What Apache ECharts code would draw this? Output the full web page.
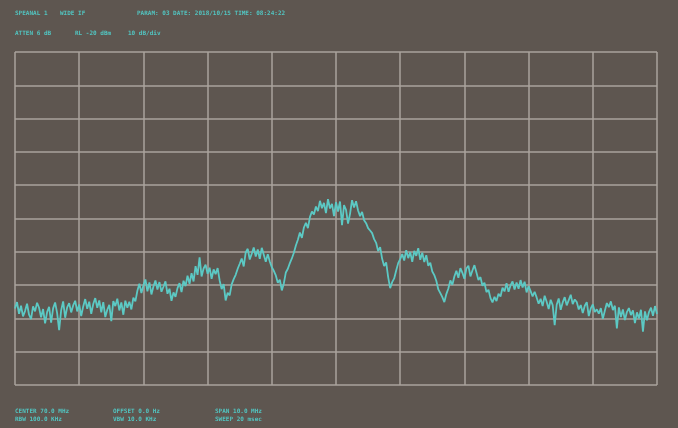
<!DOCTYPE html>
<html>
<head>
<meta charset="utf-8">
<script src="https://cdn.jsdelivr.net/npm/echarts@6/dist/echarts.min.js"></script>
<style>
  html, body { margin: 0; padding: 0; background: #5e5650; }
  #chart { width: 678px; height: 428px; }
</style>
</head>
<body>
<div id="chart"></div>
<script>
// Analyzer sweep: 65-75 MHz span, reference level -20 dBm, 10 dB/div
const freqStart = 65.0;
const freqStop = 75.0;
const refLevel = -20;
const bottomLevel = -120;

// Trace amplitudes (dBm), 321 points evenly spaced across the span
const traceDbm = [
  -97.0, -95.1, -98.6, -96.2, -99.4, -97.8, -95.6, -98.9, -100.2, -96.4,
  -97.9, -95.3, -96.8, -99.7, -97.2, -101.5, -98.1, -96.5, -101.3, -97.0,
  -95.2, -98.4, -103.5, -97.6, -94.9, -99.8, -96.7, -95.4, -98.2, -96.1,
  -94.7, -97.9, -95.8, -99.3, -96.4, -94.2, -97.1, -95.0, -98.6, -95.7,
  -93.9, -96.8, -94.6, -98.2, -95.1, -99.6, -97.4, -95.9, -100.8, -94.8,
  -96.3, -94.1, -97.6, -95.2, -98.9, -94.7, -96.8, -95.0, -97.3, -93.8,
  -94.9, -91.7, -89.6, -92.4, -90.1, -88.3, -91.9, -89.2, -92.8, -90.4,
  -88.6, -91.3, -89.1, -92.0, -90.5, -88.9, -92.6, -91.1, -94.7, -92.2,
  -93.5, -90.9, -89.4, -92.1, -88.7, -90.3, -87.2, -89.6, -86.4, -88.9,
  -84.3, -86.9, -81.7, -87.4, -85.0, -83.9, -86.6, -84.8, -88.1, -85.3,
  -86.7, -84.9, -88.6, -91.2, -89.7, -94.6, -92.3, -93.1, -89.8, -88.2,
  -86.9, -85.1, -83.6, -82.0, -84.4, -80.2, -79.1, -82.3, -80.6, -78.7,
  -81.4, -79.3, -82.1, -78.8, -80.9, -83.0, -80.7, -82.9, -84.6, -85.7,
  -87.1, -89.3, -88.4, -91.6, -89.5, -86.2, -85.1, -83.4, -82.0, -80.3,
  -78.1, -76.4, -74.2, -75.8, -72.7, -71.3, -72.9, -69.6, -67.9, -68.8,
  -66.4, -67.8, -64.7, -66.9, -65.3, -68.4, -64.2, -67.0, -65.6, -69.3,
  -65.1, -67.9, -64.9, -72.0, -66.0, -67.4, -71.5, -68.6, -64.5, -66.7,
  -64.8, -67.6, -69.3, -68.0, -70.5, -71.4, -72.9, -73.6, -74.4, -76.2,
  -77.3, -79.8, -78.6, -82.1, -84.3, -83.2, -87.6, -90.9, -89.1, -88.0,
  -85.6, -83.4, -82.2, -80.7, -82.6, -79.5, -81.9, -80.1, -83.0, -79.7,
  -81.2, -78.9, -82.4, -80.3, -83.1, -81.0, -84.2, -83.3, -85.9, -87.0,
  -88.7, -91.3, -92.4, -93.6, -95.1, -92.7, -91.0, -88.6, -89.9, -87.4,
  -85.7, -87.8, -84.9, -86.3, -88.1, -85.0, -84.2, -87.4, -85.6, -84.0,
  -86.2, -88.5, -87.6, -90.2, -89.3, -92.1, -91.4, -93.9, -95.2, -93.5,
  -94.8, -92.6, -93.4, -90.8, -91.9, -89.4, -92.0, -90.1, -88.9, -91.3,
  -89.2, -91.1, -88.5, -90.7, -89.0, -92.2, -90.3, -91.8, -93.4, -92.0,
  -93.7, -95.6, -94.1, -96.3, -93.2, -95.0, -97.2, -94.4, -96.0, -102.0,
  -95.9, -94.0, -97.4, -95.2, -93.6, -96.1, -94.5, -92.9, -95.7, -94.3,
  -95.1, -97.3, -96.0, -98.4, -96.2, -95.1, -99.3, -97.0, -95.8, -98.1,
  -97.3, -98.6, -96.9, -100.1, -97.7, -95.4, -96.6, -94.9, -97.5, -96.2,
  -103.0, -96.7, -99.6, -97.3, -100.5, -98.1, -96.9, -99.0, -97.6, -101.4,
  -98.2, -100.0, -97.4, -104.0, -97.9, -100.6, -98.1, -96.8, -99.2, -96.3,
  -98.7
];

// Annotation lines shown on the instrument screen
const headerRow1 = [
  { text: 'SPEANAL 1', x: 15 },
  { text: 'WIDE IF', x: 60 },
  { text: 'PARAM: 03 DATE: 2018/10/15 TIME: 08:24:22', x: 137 }
];
const headerRow2 = [
  { text: 'ATTEN 6 dB', x: 15 },
  { text: 'RL -20 dBm', x: 75 },
  { text: '10 dB/div', x: 128 }
];
const footerRow1 = [
  { text: 'CENTER 70.0 MHz', x: 15 },
  { text: 'OFFSET 0.0 Hz', x: 113 },
  { text: 'SPAN 10.0 MHz', x: 215 }
];
const footerRow2 = [
  { text: 'RBW 100.0 KHz', x: 15 },
  { text: 'VBW 10.0 KHz', x: 113 },
  { text: 'SWEEP 20 msec', x: 215 }
];

const step = (freqStop - freqStart) / (traceDbm.length - 1);
const tracePoints = traceDbm.map((v, i) => [freqStart + i * step, v]);

const textColor = '#52c4c0';
function textRow(items, y) {
  return items.map(it => ({
    type: 'text',
    left: it.x,
    top: y,
    style: {
      text: it.text,
      fill: textColor,
      font: 'bold 6px "DejaVu Sans Mono", monospace'
    }
  }));
}

const chart = echarts.init(document.getElementById('chart'));
chart.setOption({
  backgroundColor: '#5e5650',
  animation: false,
  grid: { left: 15, right: 21, top: 52, bottom: 43, containLabel: false },
  xAxis: {
    type: 'value',
    min: freqStart,
    max: freqStop,
    interval: 1,
    axisLine: { show: false },
    axisTick: { show: false },
    axisLabel: { show: false },
    splitLine: { show: true, lineStyle: { color: '#aaa39d', width: 1.5 } }
  },
  yAxis: {
    type: 'value',
    min: bottomLevel,
    max: refLevel,
    interval: 10,
    axisLine: { show: false },
    axisTick: { show: false },
    axisLabel: { show: false },
    splitLine: { show: true, lineStyle: { color: '#aaa39d', width: 1.5 } }
  },
  series: [{
    type: 'line',
    data: tracePoints,
    showSymbol: false,
    lineStyle: { color: '#5cc9c4', width: 1.8 },
    z: 3
  }],
  graphic: [
    ...textRow(headerRow1, 10),
    ...textRow(headerRow2, 30),
    ...textRow(footerRow1, 408),
    ...textRow(footerRow2, 416)
  ]
});
</script>
</body>
</html>
